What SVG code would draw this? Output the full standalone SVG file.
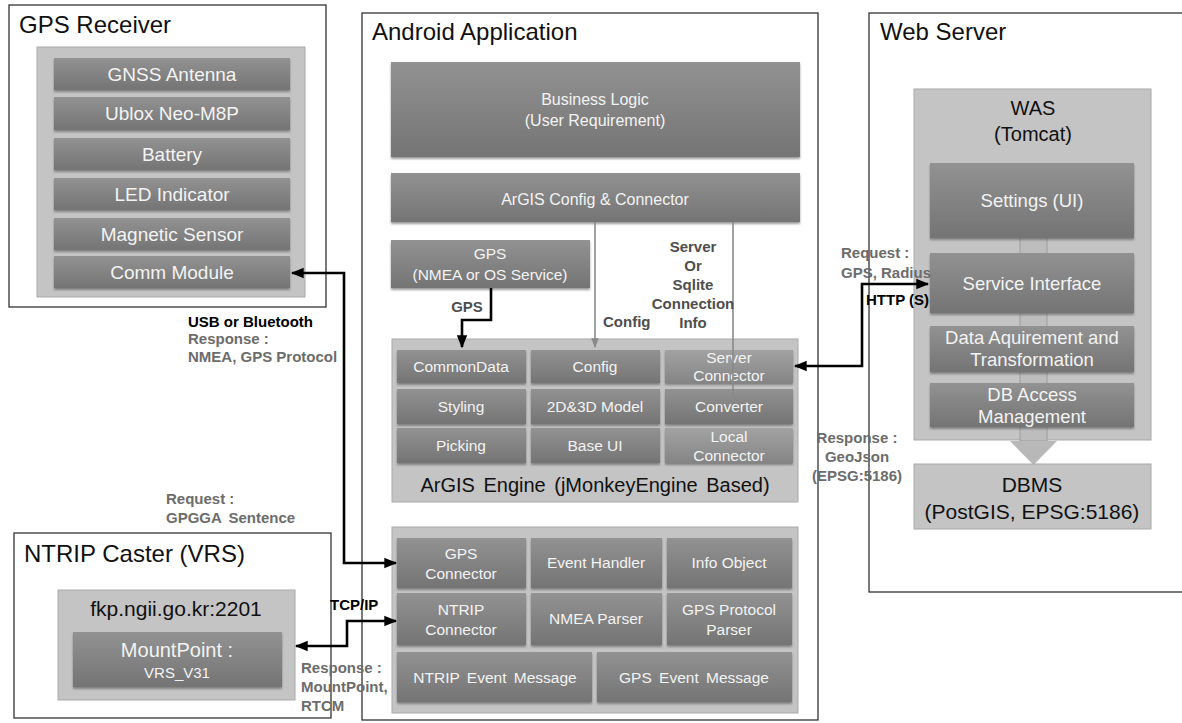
<svg xmlns="http://www.w3.org/2000/svg" width="1182" height="723" viewBox="0 0 1182 723">
  <defs>
    <linearGradient id="cellGrad" x1="0" y1="0" x2="0" y2="1">
      <stop offset="0" stop-color="#929292"/>
      <stop offset="1" stop-color="#747474"/>
    </linearGradient>
    <linearGradient id="cellGradLight" x1="0" y1="0" x2="0" y2="1">
      <stop offset="0" stop-color="#a2a2a2"/>
      <stop offset="1" stop-color="#858585"/>
    </linearGradient>
    <filter id="shadow" x="-5%" y="-10%" width="110%" height="130%">
      <feDropShadow dx="0" dy="2" stdDeviation="1" flood-color="#4a4a4a" flood-opacity="0.55"/>
    </filter>
    <marker id="arrow" viewBox="0 0 10 10" refX="9" refY="5" markerWidth="5" markerHeight="5" orient="auto-start-reverse" markerUnits="strokeWidth">
      <path d="M0,1 L10,5 L0,9 z" fill="#000"/>
    </marker>
    <marker id="arrowGray" viewBox="0 0 10 10" refX="9" refY="5" markerWidth="6" markerHeight="6" orient="auto" markerUnits="strokeWidth">
      <path d="M0,1 L10,5 L0,9 z" fill="#8a8a8a"/>
    </marker>
  </defs>
  <style>
    text { font-family: "Liberation Sans", Arial, sans-serif; }
    .frame { fill: #fff; stroke: #333; stroke-width: 1.3; }
    .title { font-size: 24px; fill: #111; }
    .panel { fill: #c4c4c4; stroke: #a9a9a9; stroke-width: 1; }
    .cell { fill: url(#cellGrad); filter: url(#shadow); }
    .cellL { fill: url(#cellGradLight); filter: url(#shadow); }
    .ct { fill: #f3f3f3; text-anchor: middle; }
    .c19 { font-size: 19px; }
    .c18 { font-size: 18.5px; }
    .c16 { font-size: 16px; }
    .c15 { font-size: 15.5px; }
    .dark { fill: #111; text-anchor: middle; }
    .lbl { font-size: 15px; font-weight: bold; }
    .lg { fill: #6c6c6c; }
    .lk { fill: #000; }
    .ld { fill: #4e4e4e; }
    .wire { fill: none; stroke: #000; stroke-width: 2.6; }
    .thin { fill: none; stroke: #8a8a8a; stroke-width: 1.6; }
    .bar { fill: #bdbdbd; stroke: #9c9c9c; stroke-width: 1; }
  </style>

  <!-- GPS Receiver -->
  <g id="gps-receiver">
    <rect class="frame" x="9" y="5" width="317" height="302"/>
    <text class="title" x="19" y="33">GPS Receiver</text>
    <rect class="panel" x="37" y="47" width="268" height="250"/>
    <rect class="cell" x="54" y="58" width="236" height="32"/>
    <text class="ct c19" x="172" y="81">GNSS Antenna</text>
    <rect class="cell" x="54" y="97" width="236" height="33"/>
    <text class="ct c19" x="172" y="120">Ublox Neo-M8P</text>
    <rect class="cell" x="54" y="138" width="236" height="32"/>
    <text class="ct c19" x="172" y="161">Battery</text>
    <rect class="cell" x="54" y="178" width="236" height="32"/>
    <text class="ct c19" x="172" y="201">LED Indicator</text>
    <rect class="cell" x="54" y="218" width="236" height="32"/>
    <text class="ct c19" x="172" y="241">Magnetic Sensor</text>
    <rect class="cell" x="54" y="256" width="236" height="32"/>
    <text class="ct c19" x="172" y="279">Comm Module</text>
  </g>

  <!-- NTRIP Caster -->
  <g id="ntrip-caster">
    <rect class="frame" x="14" y="533" width="317" height="185"/>
    <text class="title" x="24" y="562">NTRIP Caster (VRS)</text>
    <rect class="panel" x="58" y="590" width="237" height="110"/>
    <text class="dark" x="176" y="616" style="font-size:21px">fkp.ngii.go.kr:2201</text>
    <rect class="cell" x="73" y="632" width="209" height="55"/>
    <text class="ct" x="177" y="657" style="font-size:20px">MountPoint :</text>
    <text class="ct" x="177" y="678" style="font-size:15px">VRS_V31</text>
  </g>

  <!-- Android Application -->
  <g id="android-app">
    <rect class="frame" x="362" y="13" width="456" height="707"/>
    <text class="title" x="372" y="40">Android Application</text>
  </g>

  <g id="business-logic">
    <rect class="cell" x="391" y="62" width="409" height="95"/>
    <text class="ct c16" x="595" y="105">Business Logic</text>
    <text class="ct c16" x="595" y="126">(User Requirement)</text>
  </g>

  <g id="argis-config">
    <rect class="cell" x="391" y="173" width="409" height="49"/>
    <text class="ct c16" x="595" y="205">ArGIS Config &amp; Connector</text>
  </g>

  <g id="gps-service">
    <rect class="cell" x="391" y="240" width="199" height="48"/>
    <text class="ct c15" x="490" y="259">GPS</text>
    <text class="ct c15" x="490" y="280">(NMEA or OS Service)</text>
  </g>

  <g id="argis-engine">
    <rect class="panel" x="392" y="339" width="406" height="163"/>
    <rect class="cell" x="397" y="350" width="129" height="33"/>
    <text class="ct c15" x="461" y="372">CommonData</text>
    <rect class="cell" x="531" y="350" width="129" height="33"/>
    <text class="ct c15" x="595" y="372">Config</text>
    <rect class="cellL" x="665" y="350" width="128" height="33"/>
    <text class="ct c15" x="729" y="363">Server</text>
    <text class="ct c15" x="729" y="381">Connector</text>
    <rect class="cell" x="397" y="389" width="129" height="35"/>
    <text class="ct c15" x="461" y="412">Styling</text>
    <rect class="cell" x="531" y="389" width="129" height="35"/>
    <text class="ct c15" x="595" y="412">2D&amp;3D Model</text>
    <rect class="cell" x="665" y="389" width="128" height="35"/>
    <text class="ct c15" x="729" y="412">Converter</text>
    <rect class="cell" x="397" y="428" width="129" height="35"/>
    <text class="ct c15" x="461" y="451">Picking</text>
    <rect class="cell" x="531" y="428" width="129" height="35"/>
    <text class="ct c15" x="595" y="451">Base UI</text>
    <rect class="cellL" x="665" y="428" width="128" height="35"/>
    <text class="ct c15" x="729" y="442">Local</text>
    <text class="ct c15" x="729" y="461">Connector</text>
    <text class="dark" x="595" y="492" style="font-size:20px;word-spacing:3px">ArGIS Engine (jMonkeyEngine Based)</text>
  </g>

  <g id="gps-module">
    <rect class="panel" x="392" y="527" width="406" height="186"/>
    <rect class="cell" x="397" y="538" width="129" height="50"/>
    <text class="ct c15" x="461" y="559">GPS</text>
    <text class="ct c15" x="461" y="579">Connector</text>
    <rect class="cell" x="531" y="538" width="131" height="50"/>
    <text class="ct c15" x="596" y="568">Event Handler</text>
    <rect class="cell" x="667" y="538" width="125" height="50"/>
    <text class="ct c15" x="729" y="568">Info Object</text>
    <rect class="cell" x="397" y="593" width="129" height="52"/>
    <text class="ct c15" x="461" y="615">NTRIP</text>
    <text class="ct c15" x="461" y="635">Connector</text>
    <rect class="cell" x="531" y="593" width="131" height="52"/>
    <text class="ct c15" x="596" y="624">NMEA Parser</text>
    <rect class="cell" x="667" y="593" width="125" height="52"/>
    <text class="ct c15" x="729" y="615">GPS Protocol</text>
    <text class="ct c15" x="729" y="635">Parser</text>
    <rect class="cell" x="397" y="652" width="195" height="50"/>
    <text class="ct c15" x="495" y="683" style="word-spacing:3px">NTRIP Event Message</text>
    <rect class="cell" x="597" y="652" width="195" height="50"/>
    <text class="ct c15" x="694" y="683" style="word-spacing:3px">GPS Event Message</text>
  </g>

  <!-- Web Server -->
  <g id="web-server">
    <rect class="frame" x="869" y="13" width="320" height="579"/>
    <text class="title" x="880" y="40">Web Server</text>
  </g>

  <g id="was">
    <rect class="panel" x="914" y="89" width="237" height="351"/>
    <text class="dark" x="1033" y="115" style="font-size:20px">WAS</text>
    <text class="dark" x="1033" y="141" style="font-size:20px">(Tomcat)</text>
    <rect class="bar" x="1020" y="236" width="27" height="19"/>
    <rect class="bar" x="1020" y="311" width="27" height="17"/>
    <rect class="bar" x="1020" y="370" width="27" height="15"/>
    <rect class="bar" x="1020" y="425" width="27" height="16"/>
    <rect class="cell" x="930" y="163" width="204" height="75"/>
    <text class="ct c18" x="1032" y="207">Settings (UI)</text>
    <rect class="cell" x="930" y="253" width="204" height="60"/>
    <text class="ct c18" x="1032" y="290">Service Interface</text>
    <rect class="cell" x="930" y="326" width="204" height="46"/>
    <text class="ct c18" x="1032" y="344">Data Aquirement and</text>
    <text class="ct c18" x="1032" y="366">Transformation</text>
    <rect class="cell" x="930" y="383" width="204" height="44"/>
    <text class="ct c18" x="1032" y="401">DB Access</text>
    <text class="ct c18" x="1032" y="423">Management</text>
  </g>

  <g id="dbms">
    <path d="M1010,441 L1057,441 L1033.5,465 z" fill="#b8b8b8"/>
    <rect class="panel" x="914" y="464" width="237" height="65"/>
    <text class="dark" x="1032" y="492" style="font-size:21px">DBMS</text>
    <text class="dark" x="1032" y="519" style="font-size:21px">(PostGIS, EPSG:5186)</text>
  </g>

  <!-- Connectors -->
  <g id="connectors">
    <!-- config / connection-info feeds from ArGIS Config & Connector -->
    <path class="thin" d="M595,222 V347" marker-end="url(#arrowGray)"/>
    <path class="thin" d="M733,222 V398"/>
    <!-- GPS service into CommonData -->
    <path class="wire" d="M491,288 V320 H462 V347" marker-end="url(#arrow)"/>
    <!-- Comm Module <-> GPS Connector -->
    <path class="wire" d="M292,273 H344 V563 H396" marker-start="url(#arrow)" marker-end="url(#arrow)"/>
    <!-- MountPoint <-> NTRIP Connector -->
    <path class="wire" d="M296,646 H347 V621 H396" marker-start="url(#arrow)" marker-end="url(#arrow)"/>
    <!-- Server Connector <-> Service Interface -->
    <path class="wire" d="M795,366 H862 V284 H928" marker-start="url(#arrow)" marker-end="url(#arrow)"/>
  </g>

  <!-- Connector labels -->
  <g id="labels">
    <text class="lbl ld" x="467" y="312" text-anchor="middle">GPS</text>
    <text class="lbl ld" x="603" y="327">Config</text>
    <text class="lbl ld" x="693" y="252" text-anchor="middle">Server</text>
    <text class="lbl ld" x="693" y="271" text-anchor="middle">Or</text>
    <text class="lbl ld" x="693" y="290" text-anchor="middle">Sqlite</text>
    <text class="lbl ld" x="693" y="309" text-anchor="middle">Connection</text>
    <text class="lbl ld" x="693" y="328" text-anchor="middle">Info</text>

    <text class="lbl lk" x="188" y="327">USB or Bluetooth</text>
    <text class="lbl lg" x="188" y="344">Response :</text>
    <text class="lbl lg" x="188" y="362">NMEA, GPS Protocol</text>

    <text class="lbl lg" x="166" y="504">Request :</text>
    <text class="lbl lg" x="166" y="523" style="word-spacing:3px">GPGGA Sentence</text>

    <text class="lbl lk" x="330" y="610">TCP/IP</text>
    <text class="lbl lg" x="301" y="673">Response :</text>
    <text class="lbl lg" x="301" y="692">MountPoint,</text>
    <text class="lbl lg" x="301" y="711">RTCM</text>

    <text class="lbl lg" x="841" y="258">Request :</text>
    <text class="lbl lg" x="841" y="278">GPS, Radius</text>
    <text class="lbl lk" x="866" y="305">HTTP (S)</text>

    <text class="lbl lg" x="857" y="443" text-anchor="middle">Response :</text>
    <text class="lbl lg" x="857" y="462" text-anchor="middle">GeoJson</text>
    <text class="lbl lg" x="857" y="481" text-anchor="middle">(EPSG:5186)</text>
  </g>
</svg>
